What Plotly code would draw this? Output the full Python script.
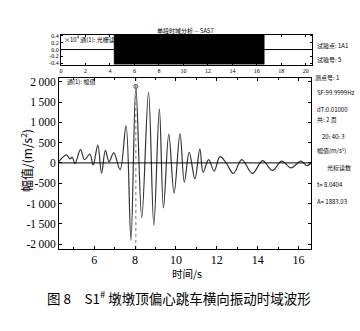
import plotly.graph_objects as go

# ---- data ----
t_pts = [4.28, 4.65, 4.81, 4.93, 5.06, 5.33, 5.53, 5.79, 5.95, 6.18, 6.36, 6.55, 6.73, 6.96,
         7.27, 7.56, 7.80, 8.04, 8.33, 8.66, 8.92, 9.19, 9.39, 9.65, 9.91, 10.20, 10.41,
         10.65, 10.93, 11.17, 11.33, 11.60, 11.87, 12.15, 12.44, 12.81, 13.22, 13.74,
         14.24, 14.72, 15.17, 15.63, 16.12, 16.41, 16.62]
a_pts = [40, 200, 100, 140, -20, 325, 80, 220, -50, 440, -255, 310, 30, 245,
         -165, 920, -1900, 1883, -1350, 1740, -1530, 1330, -1110, 710, -745, 725, -475,
         260, -390, 345, -230, 80, -200, 155, 15, -260, 80, -260,
         55, -185, 45, -120, 45, -70, 10]

cursor_t = 8.04
cursor_a = 1883

y_tickvals = [-2000, -1500, -1000, -500, 0, 500, 1000, 1500, 2000]
y_ticktext = ["-2\u2009000", "-1\u2009500", "-1\u2009000", "-500", "0", "500",
              "1\u2009000", "1\u2009500", "2\u2009000"]
x_tickvals = [6, 8, 10, 12, 14, 16]

# overview panel
ov_xticks = [0, 2, 4, 6, 8, 10, 12, 14, 16, 18, 20]
ov_yticks = [-0.4, -0.2, 0.0, 0.2, 0.4]
ov_yticktext = ["-0.4", "-0.2", "0.0", "0.2", "0.4"]
sel_start, sel_end = 4.34, 16.6

side_texts = ["试验点: 1A1", "试验号: 5", "测点号: 1", "SF:99.9999Hz", "dT:0.01000",
              "共: 2 页", "20: 40: 3", "幅值(m/s²)", "光标读数", "t= 8.0404", "A= 1883.03"]
side_y = [37.5, 52, 69.5, 85, 102.5, 119, 136, 150.5, 168, 185, 201.5]
side_x = [315, 315, 313, 315, 315, 315, 320, 315, 325, 315, 315]

W, H = 360, 331
def px(x): return x / W
def py(y): return 1 - y / H

fig = go.Figure()

# main waveform
fig.add_trace(go.Scatter(x=t_pts, y=a_pts, mode="lines",
                         line=dict(color="#333333", width=1.2, shape="spline", smoothing=1.0),
                         xaxis="x", yaxis="y", hoverinfo="skip"))
# zero line
fig.add_trace(go.Scatter(x=[4.28, 16.62], y=[0, 0], mode="lines",
                         line=dict(color="black", width=1), xaxis="x", yaxis="y"))
# cursor
fig.add_trace(go.Scatter(x=[cursor_t, cursor_t], y=[-2120, 2090], mode="lines",
                         line=dict(color="#777777", width=1, dash="dot"), xaxis="x", yaxis="y"))
fig.add_trace(go.Scatter(x=[cursor_t], y=[cursor_a], mode="markers",
                         marker=dict(symbol="circle-open", size=4, color="#555555"),
                         xaxis="x", yaxis="y"))

# overview panel
fig.add_trace(go.Scatter(x=[sel_start, sel_end, sel_end, sel_start, sel_start],
                         y=[-0.44, -0.44, 0.43, 0.43, -0.44], fill="toself",
                         fillcolor="black", line=dict(color="black", width=0.5),
                         mode="lines", xaxis="x2", yaxis="y2"))
fig.add_trace(go.Scatter(x=[0, 20.5], y=[0, 0], mode="lines",
                         line=dict(color="black", width=1), xaxis="x2", yaxis="y2"))

serif = "Liberation Serif"
cjk = "Noto Sans CJK SC"

fig.update_layout(
    width=W, height=H, margin=dict(l=0, r=0, t=0, b=0),
    paper_bgcolor="white", plot_bgcolor="white", showlegend=False,
    xaxis=dict(domain=[px(57.3), px(311)], range=[4.28, 16.62],
               tickvals=x_tickvals, ticks="inside", ticklen=3, tickcolor="black",
               minor=dict(dtick=1, ticks="inside", ticklen=2, tickcolor="black"),
               showline=True, linecolor="black", linewidth=1, mirror="ticks",
               showgrid=False, zeroline=False,
               tickfont=dict(family=serif, size=12, color="black")),
    yaxis=dict(domain=[py(250), py(77)], range=[-2120, 2090],
               tickvals=y_tickvals, ticktext=y_ticktext, ticks="inside", ticklen=3,
               tickcolor="black", showline=True, linecolor="black", linewidth=1,
               mirror="ticks", showgrid=False, zeroline=False,
               tickfont=dict(family=serif, size=11.5, color="black")),
    xaxis2=dict(domain=[px(59.3), px(311.7)], range=[0, 20.5], anchor="y2",
                tickvals=ov_xticks, ticks="inside", ticklen=2, tickcolor="black",
                showline=True, linecolor="black", linewidth=1, mirror="ticks",
                showgrid=False, zeroline=False,
                tickfont=dict(family=serif, size=6, color="black")),
    yaxis2=dict(domain=[py(63.3), py(33.3)], range=[-0.44, 0.43], anchor="x2",
                tickvals=ov_yticks, ticktext=ov_yticktext, ticks="inside", ticklen=2,
                tickcolor="black", showline=True, linecolor="black", linewidth=1,
                mirror="ticks", showgrid=False, zeroline=False,
                tickfont=dict(family=serif, size=6, color="black")),
)

ann = []
ann.append(dict(text="单段时域分析 -- SA57", x=px(185), y=py(22.7), xref="paper", yref="paper",
                showarrow=False, font=dict(family=cjk, size=6, color="black")))
ann.append(dict(text="×10<sup>4</sup> 通(1): 光栅读数", x=px(60), y=py(30), xref="paper",
                yref="paper", xanchor="left", showarrow=False,
                font=dict(family=cjk, size=6, color="black")))
ann.append(dict(text="通(1): 幅值", x=px(63), y=py(74), xref="paper", yref="paper",
                xanchor="left", showarrow=False, font=dict(family=cjk, size=6, color="black")))
for s, xx, yy in zip(side_texts, side_x, side_y):
    ann.append(dict(text=s, x=px(xx), y=py(yy), xref="paper", yref="paper", xanchor="left",
                    showarrow=False, font=dict(family=cjk, size=6, color="black")))
ann.append(dict(text="幅值/(m/s<sup>2</sup>)", x=px(13), y=py(160), xref="paper", yref="paper",
                textangle=-90, showarrow=False, font=dict(family=cjk, size=12, color="black")))
ann.append(dict(text="时间/s", x=px(186), y=py(283), xref="paper", yref="paper",
                showarrow=False, borderpad=0, font=dict(family=cjk, size=10.5, color="black")))
ann.append(dict(text="图 8　S1<sup>#</sup> 墩墩顶偏心跳车横向振动时域波形", x=px(178), y=py(312),
                xref="paper", yref="paper", showarrow=False,
                font=dict(family=cjk, size=13.5, color="black")))
fig.update_layout(annotations=ann)

fig.write_html("out.html")
